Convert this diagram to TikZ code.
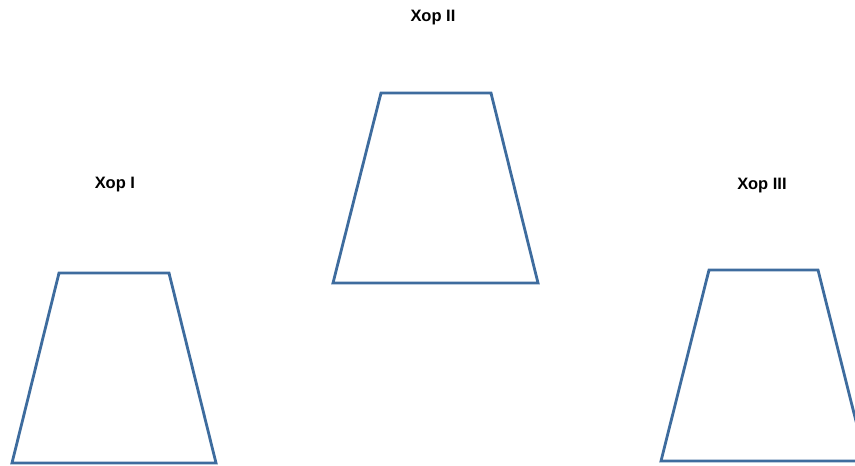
\documentclass[tikz,border=0pt]{standalone}
\usepackage{fontspec}
\setmainfont{Liberation Sans}
\definecolor{choirblue}{HTML}{3E6C9E}
\tikzset{
  stage/.style={draw=choirblue, line width=2.8pt, line join=miter},
  choirlabel/.style={font=\bfseries\fontsize{16.5}{19}\selectfont, inner sep=0pt}
}
\begin{document}
\begin{tikzpicture}[x=1pt, y=-1pt]
  \useasboundingbox (0,0) rectangle (855,466);
  \clip (0,0) rectangle (855,466);
  % labels
  \node[choirlabel] (L2) at (433,18) {Хор II};
  \node[choirlabel] (L1) at (115,185) {Хор I};
  \node[choirlabel] (L3) at (762,186) {Хор III};
  % trapezia
  \draw[stage] (59,273) -- (169,273) -- (216,463) -- (12,463) -- cycle;
  \draw[stage] (381,93) -- (491,93) -- (538,283) -- (333,283) -- cycle;
  \draw[stage] (709,270) -- (818,270) -- (866,461) -- (661,461) -- cycle;
\end{tikzpicture}
\end{document}
